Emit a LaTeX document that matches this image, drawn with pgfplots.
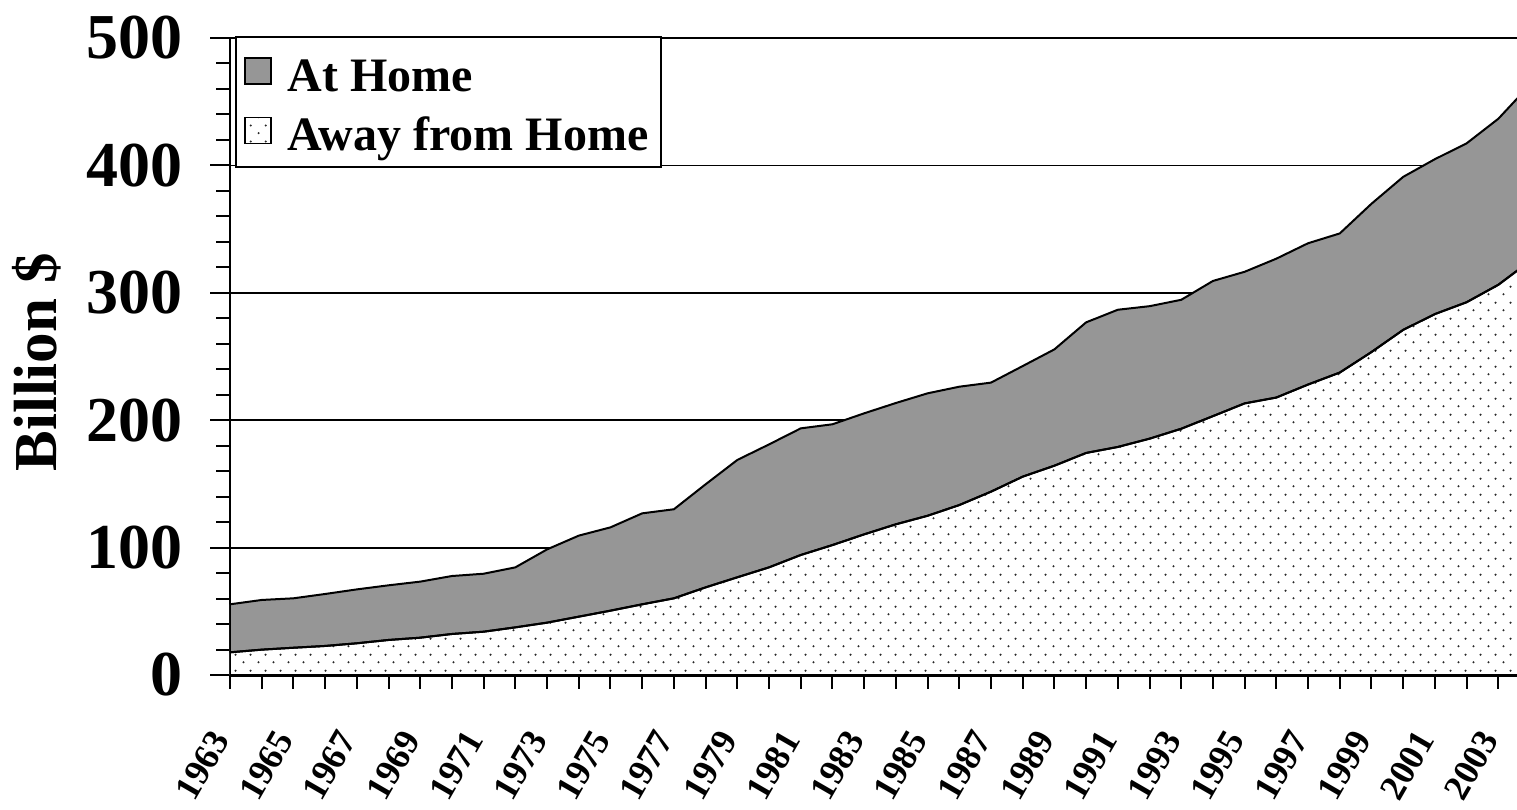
\documentclass[border=0pt]{standalone}
\usepackage{fontspec}
\setmainfont{Liberation Serif}
\usepackage{pgfplots}
\usepackage{pgfplotstable}
\pgfplotsset{compat=1.18}
\usetikzlibrary{patterns,calc}

\pgfdeclarepatternformonly{sparsedots}{\pgfpointorigin}{\pgfpoint{7.5pt}{8pt}}{\pgfpoint{7.5pt}{8pt}}{%
  \pgfpathcircle{\pgfpoint{1.875pt}{2pt}}{0.6pt}%
  \pgfpathcircle{\pgfpoint{5.625pt}{6pt}}{0.6pt}%
  \pgfusepath{fill}%
}

\definecolor{homegray}{RGB}{150,150,150}
\definecolor{dotgray}{RGB}{40,40,40}

\pgfplotstableread{
year away total
1963 17.8 55.5
1964 19.9 58.9
1965 21.4 60.2
1966 22.8 63.6
1967 24.9 67.2
1968 27.5 70.4
1969 29.3 73.3
1970 32.2 77.7
1971 34.0 79.5
1972 37.4 84.5
1973 41.1 98.6
1974 45.8 109.4
1975 50.5 115.9
1976 55.5 126.9
1977 60.2 130.1
1978 68.8 149.7
1979 76.7 168.8
1980 84.5 181.0
1981 94.2 193.6
1982 102.0 196.8
1983 110.4 205.4
1984 118.3 213.5
1985 125.0 221.1
1986 133.4 226.3
1987 143.9 229.5
1988 155.7 242.5
1989 164.3 255.6
1990 174.3 276.8
1991 179.0 286.7
1992 185.5 289.5
1993 193.3 294.5
1994 203.2 309.3
1995 213.2 316.5
1996 217.8 326.8
1997 228.0 338.9
1998 237.4 346.6
1999 253.5 369.9
2000 270.9 391.0
2001 283.3 404.9
2002 292.6 417.3
2003 306.3 436.6
2004 324.9 463.3
}\datatable

\begin{document}
\begin{tikzpicture}
\begin{axis}[
  name=ax,
  scale only axis,
  width=643.5pt, height=318.5pt,
  xmin=1963, xmax=2003.59, ymin=0, ymax=500,
  axis x line*=bottom, axis y line*=left,
  x axis line style={line width=1.5pt,-},
  y axis line style={line width=1pt,-},
  ytick={0,100,...,500},
  minor y tick num=4,
  ymajorgrids,
  major grid style={black, line width=0.9pt},
  xtick={1963,1965,...,2003},
  minor xtick={1964,1966,...,2002},
  tick align=outside,
  tick style={black, line width=1pt},
  major tick length=10pt,
  minor tick length=6.8pt,
  xtick style={/pgfplots/major tick length=6.8pt},
  /pgf/number format/assume math mode=true,
  /pgf/number format/1000 sep={},
  yticklabel style={font=\fontsize{32}{32}\selectfont\bfseries, xshift=-10pt},
  xticklabel style={font=\fontsize{18}{18}\selectfont\bfseries, inner sep=0pt, xshift=-4.5pt, yshift=-19.3pt, rotate=60, anchor=east},
  ylabel={Billion \$},
  ylabel style={font=\fontsize{30.5}{30.5}\selectfont\bfseries, at={(axis description cs:-0.150,0.491)}, anchor=center, rotate=0},
  legend cell align=left,
  legend style={at={(0.004,1.003)}, anchor=north west, draw=black, line width=1pt, fill=white,
    font=\fontsize{24}{27}\selectfont\bfseries, inner xsep=4pt, inner ysep=6pt, row sep=6.5pt, column sep=6pt,
    nodes={text height=19.2pt, text depth=0pt}},
  legend image code/.code={\draw[#1, draw=black, line width=0.8pt] (0pt,-6pt) rectangle (13pt,7pt);},
]
\addplot[draw=black, line width=1pt, fill=homegray] table[x=year, y=total] {\datatable} \closedcycle;
\addlegendentry{At Home}
\addplot[draw=black, line width=1pt, fill=white, postaction={pattern=sparsedots, pattern color=dotgray}] table[x=year, y=away] {\datatable} \closedcycle;
\addlegendentry{Away from Home}
\end{axis}
\pgfresetboundingbox
\path[use as bounding box] ($(ax.south west)+(-115pt,-67pt)$) rectangle ($(ax.north east)+(0pt,19pt)$);
\end{tikzpicture}
\end{document}
